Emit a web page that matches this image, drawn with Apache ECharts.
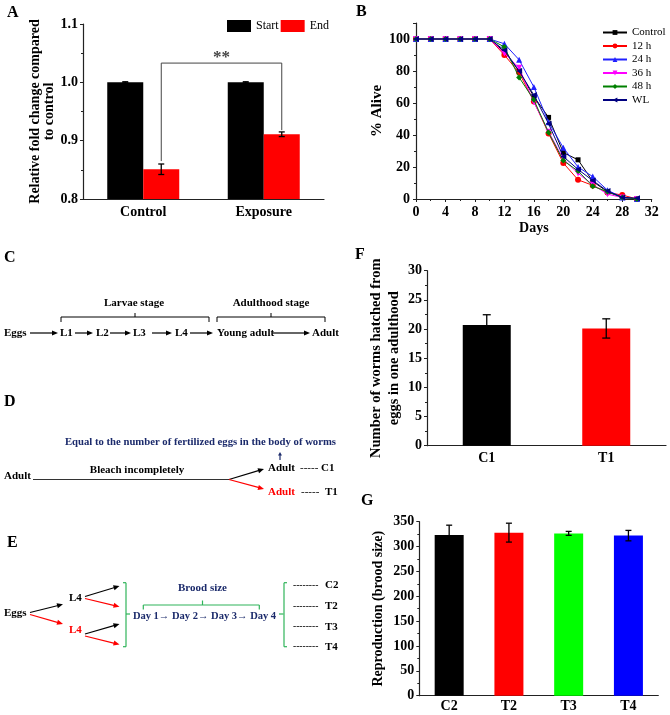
<!DOCTYPE html>
<html><head><meta charset="utf-8">
<script src="https://cdn.jsdelivr.net/npm/echarts@6/dist/echarts.min.js"></script>
<style>html,body{margin:0;padding:0;background:#fff}#c{width:670px;height:715px}</style>
</head><body><div id="c"></div>
<script>
// ---------- Panel A data ----------
const aCategories = ['Control', 'Exposure'];
const aStart = [1.0, 1.0];
const aStartErr = [0.001, 0.001];
const aEnd = [0.851, 0.911];
const aEndErr = [0.009, 0.004];
const aBracket = [0.865, 1.033, 0.918]; // left foot, top, right foot
const aYTicks = [0.8, 0.9, 1.0, 1.1];

// ---------- Panel B data ----------
const bDays = [0, 2, 4, 6, 8, 10, 12, 14, 16, 18, 20, 22, 24, 26, 28, 30];
const bNames = ['Control', '12 h', '24 h', '36 h', '48 h', 'WL'];
const bControl = [100, 100, 100, 100, 100, 100, 92, 80, 64, 51, 29, 24.5, 11, 4.5, 1, 0];
const b12h     = [100, 100, 100, 100, 100, 100, 90, 79, 61, 41, 22.5, 12, 8.5, 4, 2.5, 0];
const b24h     = [100, 100, 100, 100, 100, 100, 97, 87, 70, 48, 32, 20, 14, 5.5, 1, 0];
const b36h     = [100, 100, 100, 100, 100, 100, 91, 82, 60.5, 42, 25, 16, 9, 3, 1, 0];
const b48h     = [100, 100, 100, 100, 100, 100, 95, 76, 62, 41.5, 24, 17.5, 8, 4.5, 1, 0];
const bWL      = [100, 100, 100, 100, 100, 100, 93, 80, 65, 47, 26.5, 18.5, 11.5, 5, 1, 0.5];

// ---------- Panel F data ----------
const fCategories = ['C1', 'T1'];
const fValues = [20.7, 20.1];
const fErr = [1.75, 1.65];

// ---------- Panel G data ----------
const gCategories = ['C2', 'T2', 'T3', 'T4'];
const gValues = [323, 328, 326.5, 322];
const gErr = [20, 19, 4, 10.5];

// ---------- styling helpers ----------
const SERIF = '"Liberation Serif", "Times New Roman", serif';
const NAVY = '#1b2a6b';
const GREEN = '#2fb45a';
const RED = '#ff0000';

function txt(x, y, t, o) {
  o = o || {};
  return { type: 'text', x: x, y: y, silent: true, z: 10,
    style: { text: t, font: (o.w || 'bold') + ' ' + (o.s || 11) + 'px ' + SERIF,
      fill: o.c || '#000', align: o.a || 'left', verticalAlign: 'middle' } };
}
function seg(x1, y1, x2, y2, c, w, dash) {
  return { type: 'line', silent: true, z: 10, shape: { x1: x1, y1: y1, x2: x2, y2: y2 },
    style: { stroke: c || '#000', lineWidth: w || 1, lineDash: dash || null } };
}
function arrow(x1, y1, x2, y2, c, L, W) {
  c = c || '#000'; L = L || 6; W = W || 2.6;
  const ang = Math.atan2(y2 - y1, x2 - x1);
  const bx = x2 - L * Math.cos(ang), by = y2 - L * Math.sin(ang);
  const px = -Math.sin(ang) * W, py = Math.cos(ang) * W;
  return [seg(x1, y1, bx + Math.cos(ang), by + Math.sin(ang), c, 1.2),
    { type: 'polygon', silent: true, z: 10, shape: { points: [[x2, y2], [bx + px, by + py], [bx - px, by - py]] }, style: { fill: c } }];
}

function axisCommon() {
  return {
    axisLine: { show: true, onZero: false, lineStyle: { color: '#222', width: 1.2 } },
    axisTick: { show: true, inside: false, length: 3, lineStyle: { color: '#222' } },
    minorTick: { show: true, splitNumber: 2, length: 2, lineStyle: { color: '#222' } },
    splitLine: { show: false },
    axisLabel: { color: '#000', fontFamily: SERIF, fontWeight: 'bold', fontSize: 14 },
    nameTextStyle: { color: '#000', fontFamily: SERIF, fontWeight: 'bold', fontSize: 14 }
  };
}

function errSeries(name, xi, yi, vals, errs, offsetPx, cap) {
  return {
    type: 'custom', name: name, xAxisIndex: xi, yAxisIndex: yi, z: 5, silent: true,
    data: vals.map((v, i) => [i, v, errs[i]]),
    renderItem: function (params, api) {
      const i = api.value(0), v = api.value(1), e = api.value(2);
      const hi = api.coord([i, v + e]);
      const lo = api.coord([i, v - e]);
      const cx = hi[0] + offsetPx;
      const st = { stroke: '#000', lineWidth: 1.3 };
      return { type: 'group', children: [
        { type: 'line', shape: { x1: cx, y1: hi[1], x2: cx, y2: lo[1] }, style: st },
        { type: 'line', shape: { x1: cx - cap, y1: hi[1], x2: cx + cap, y2: hi[1] }, style: st },
        { type: 'line', shape: { x1: cx - cap, y1: lo[1], x2: cx + cap, y2: lo[1] }, style: st }
      ] };
    }
  };
}

// ---------- graphic (diagrams C, D, E and panel letters) ----------
const g = [];
// Panel letters
[['A', 7, 13], ['B', 356, 12], ['C', 4, 258], ['D', 4, 402], ['E', 7, 543], ['F', 355, 255], ['G', 361, 501]]
  .forEach(p => g.push(txt(p[1], p[2], p[0], { s: 16 })));

// Panel C
const cy = 333;
g.push(txt(4, cy, 'Eggs'));
g.push(...arrow(30, cy, 58, cy));
g.push(txt(60, cy, 'L1'));
g.push(...arrow(75, cy, 93, cy));
g.push(txt(96, cy, 'L2'));
g.push(...arrow(110, cy, 131, cy));
g.push(txt(133, cy, 'L3'));
g.push(...arrow(152, cy, 172, cy));
g.push(txt(175, cy, 'L4'));
g.push(...arrow(190, cy, 213, cy));
g.push(txt(217, cy, 'Young adult'));
g.push(...arrow(273, cy, 310, cy));
g.push(txt(312, cy, 'Adult'));
g.push(txt(134, 303, 'Larvae stage', { a: 'center' }));
g.push(txt(271, 303, 'Adulthood stage', { a: 'center' }));
[[61, 209, 135], [217, 325, 271]].forEach(b => {
  g.push(seg(b[0], 317, b[1], 317));
  g.push(seg(b[0], 317, b[0], 322));
  g.push(seg(b[1], 317, b[1], 322));
  g.push(seg(b[2], 317, b[2], 313));
});

// Panel D
g.push(txt(200.5, 442, 'Equal to the number of fertilized eggs in the body of worms', { a: 'center', c: NAVY, s: 10.7 }));
g.push(...arrow(280, 460, 280, 452, NAVY, 3.5, 2));
g.push(txt(268, 468.5, 'Adult'));
g.push(txt(300, 468.5, '-----', { w: 'normal' }));
g.push(txt(321, 468.5, 'C1'));
g.push(txt(137, 470.5, 'Bleach incompletely', { a: 'center' }));
g.push(txt(4, 476, 'Adult'));
g.push(seg(33, 479.5, 229, 479.5, '#333', 1.2));
g.push(...arrow(229, 479.5, 264, 469));
g.push(...arrow(229, 479.5, 264, 489, RED));
g.push(txt(268, 492.5, 'Adult', { c: RED }));
g.push(txt(301, 492.5, '-----', { w: 'normal' }));
g.push(txt(325, 492.5, 'T1'));

// Panel E
g.push(txt(4, 613.5, 'Eggs'));
g.push(...arrow(30, 612.5, 63, 604.3));
g.push(...arrow(30, 614.5, 63, 624, RED));
g.push(txt(69, 598.5, 'L4'));
g.push(txt(69, 630, 'L4', { c: RED }));
g.push(...arrow(85, 596.5, 119.5, 586));
g.push(...arrow(85, 598.5, 119.5, 606.7, RED));
g.push(...arrow(85, 634, 119.5, 624));
g.push(...arrow(85, 636, 119.5, 644.5, RED));
// green right bracket
g.push(seg(126, 582.7, 126, 646.7, GREEN, 1.2));
g.push(seg(123, 582.7, 126, 582.7, GREEN, 1.2));
g.push(seg(123, 646.7, 126, 646.7, GREEN, 1.2));
g.push(seg(126, 614, 130, 614, GREEN, 1.2));
g.push(txt(202.5, 588.5, 'Brood size', { a: 'center', c: NAVY }));
g.push(seg(143.3, 605, 259.3, 605, GREEN, 1.2));
g.push(seg(143.3, 605, 143.3, 609.5, GREEN, 1.2));
g.push(seg(259.3, 605, 259.3, 609.5, GREEN, 1.2));
g.push(seg(202.5, 605, 202.5, 600.5, GREEN, 1.2));
g.push(txt(204.5, 616, 'Day 1\u2192 Day 2\u2192 Day 3\u2192 Day 4', { a: 'center', c: NAVY, s: 10.5 }));
// green left bracket
g.push(seg(279, 614, 283.5, 614, GREEN, 1.2));
g.push(seg(284, 582.7, 284, 646.7, GREEN, 1.2));
g.push(seg(284, 582.7, 287, 582.7, GREEN, 1.2));
g.push(seg(284, 646.7, 287, 646.7, GREEN, 1.2));
[['C2', 585], ['T2', 606], ['T3', 626.7], ['T4', 646.7]].forEach(r => {
  g.push(txt(293, r[1], '--------', { w: 'normal', s: 9.5 }));
  g.push(txt(325, r[1], r[0]));
});

// ---------- chart ----------
const chart = echarts.init(document.getElementById('c'), null, { renderer: 'canvas' });

const ax = axisCommon;
const bSeriesData = [bControl, b12h, b24h, b36h, b48h, bWL];
const bColors = ['#000000', '#ff0000', '#2020ff', '#ff00ff', '#008000', '#000080'];
const bSymbols = ['rect', 'circle', 'triangle', 'triangle', 'diamond', 'triangle'];
const bRot = [0, 0, 0, 180, 0, 90];

const option = {
  animation: false,
  backgroundColor: '#fff',
  textStyle: { fontFamily: SERIF },
  grid: [
    { left: 83, top: 24, width: 241, height: 175 },       // A
    { left: 416, top: 23, width: 235.7, height: 176 },    // B
    { left: 427, top: 270.7, width: 239, height: 175 },   // F
    { left: 419.3, top: 521.7, width: 239, height: 174 }  // G
  ],
  legend: [
    { data: ['Start', 'End'], left: 227, top: 20, padding: 0, orient: 'horizontal', itemWidth: 24, itemHeight: 12,
      itemGap: 2, icon: 'rect', textStyle: { fontFamily: SERIF, fontSize: 12, color: '#000' } },
    { data: bNames, left: 602, top: 27, padding: 0, orient: 'vertical', itemWidth: 24, itemHeight: 6, itemGap: 2.5,
      textStyle: { fontFamily: SERIF, fontSize: 11, color: '#000' } }
  ],
  xAxis: [
    Object.assign(ax(), { gridIndex: 0, type: 'category', data: aCategories,
      axisTick: { show: false }, minorTick: { show: false },
      axisLabel: Object.assign(ax().axisLabel, { margin: 6 }) }),
    Object.assign(ax(), { gridIndex: 1, type: 'value', min: 0, max: 32, interval: 4,
      name: 'Days', nameLocation: 'middle', nameGap: 22,
      axisLabel: Object.assign(ax().axisLabel, { margin: 6 }) }),
    Object.assign(ax(), { gridIndex: 2, type: 'category', data: fCategories,
      axisTick: { show: false }, minorTick: { show: false },
      axisLabel: Object.assign(ax().axisLabel, { margin: 6 }) }),
    Object.assign(ax(), { gridIndex: 3, type: 'category', data: gCategories,
      axisTick: { show: false }, minorTick: { show: false },
      axisLabel: Object.assign(ax().axisLabel, { margin: 4 }) })
  ],
  yAxis: [
    Object.assign(ax(), { gridIndex: 0, type: 'value', min: 0.8, max: 1.1, interval: 0.1,
      name: 'Relative fold change compared\nto control', nameLocation: 'middle', nameGap: 27,
      nameTextStyle: Object.assign(ax().nameTextStyle, { lineHeight: 14 }),
      axisLabel: Object.assign(ax().axisLabel, { formatter: v => v.toFixed(1), margin: 5 }) }),
    Object.assign(ax(), { gridIndex: 1, type: 'value', min: 0, max: 110, interval: 20,
      name: '% Alive', nameLocation: 'middle', nameGap: 31,
      nameTextStyle: Object.assign(ax().nameTextStyle, { fontSize: 15 }),
      axisLabel: Object.assign(ax().axisLabel, { showMaxLabel: false, margin: 6 }) }),
    Object.assign(ax(), { gridIndex: 2, type: 'value', min: 0, max: 30, interval: 5,
      name: 'Number of worms hatched from\neggs in one adulthood', nameLocation: 'middle', nameGap: 24,
      nameTextStyle: Object.assign(ax().nameTextStyle, { fontSize: 14.5, lineHeight: 18 }),
      axisLabel: Object.assign(ax().axisLabel, { margin: 5 }) }),
    Object.assign(ax(), { gridIndex: 3, type: 'value', min: 0, max: 350, interval: 50,
      name: 'Reproduction (brood size)', nameLocation: 'middle', nameGap: 34,
      axisLabel: Object.assign(ax().axisLabel, { margin: 5 }) })
  ],
  graphic: g,
  series: [
    // Panel A
    { type: 'bar', name: 'Start', xAxisIndex: 0, yAxisIndex: 0, data: aStart, barWidth: 36, barGap: '0%',
      itemStyle: { color: '#000' } },
    { type: 'bar', name: 'End', xAxisIndex: 0, yAxisIndex: 0, data: aEnd, barWidth: 36, barGap: '0%',
      itemStyle: { color: RED } },
    errSeries('errStart', 0, 0, aStart, aStartErr, -18, 3),
    errSeries('errEnd', 0, 0, aEnd, aEndErr, 18, 3),
    { type: 'custom', name: 'bracket', xAxisIndex: 0, yAxisIndex: 0, z: 6, silent: true,
      data: [aBracket],
      renderItem: function (params, api) {
        const l = api.coord([0, api.value(0)]);
        const t = api.coord([0, api.value(1)]);
        const r = api.coord([1, api.value(2)]);
        const x1 = l[0] + 18, x2 = r[0] + 18;
        return { type: 'group', children: [
          { type: 'polyline', shape: { points: [[x1, l[1]], [x1, t[1]], [x2, t[1]], [x2, r[1]]] },
            style: { stroke: '#444', lineWidth: 1, fill: null } },
          { type: 'text', x: (x1 + x2) / 2, y: t[1] + 3,
            style: { text: '**', font: 'bold 17px ' + SERIF, fill: '#444', align: 'center', verticalAlign: 'bottom' } }
        ] };
      }
    },
    // Panel B
    ...bNames.map((n, k) => ({
      type: 'line', name: n, xAxisIndex: 1, yAxisIndex: 1,
      data: bDays.map((d, i) => [d, bSeriesData[k][i]]),
      symbol: bSymbols[k], symbolRotate: bRot[k], symbolSize: k === 0 ? 5 : 6,
      lineStyle: { color: bColors[k], width: 1 }, itemStyle: { color: bColors[k] }, z: 3 + k
    })),
    // Panel F
    { type: 'bar', name: 'F', xAxisIndex: 2, yAxisIndex: 2, barWidth: 48,
      data: fValues.map((v, i) => ({ value: v, itemStyle: { color: i === 0 ? '#000' : RED } })) },
    errSeries('errF', 2, 2, fValues, fErr, 0, 4),
    // Panel G
    { type: 'bar', name: 'G', xAxisIndex: 3, yAxisIndex: 3, barWidth: 29,
      data: gValues.map((v, i) => ({ value: v, itemStyle: { color: ['#000', RED, '#00ff00', '#0000ff'][i] } })) },
    errSeries('errG', 3, 3, gValues, gErr, 0, 3)
  ]
};
chart.setOption(option);
</script>
</body></html>
